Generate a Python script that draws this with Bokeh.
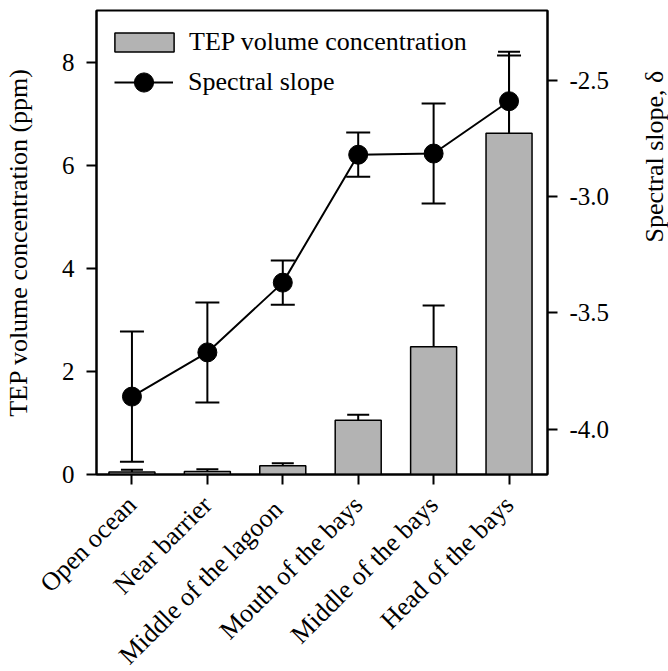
import math
from bokeh.plotting import figure
from bokeh.models import (ColumnDataSource, Range1d, LinearAxis, FixedTicker,
                          Whisker, TeeHead, Legend, LegendItem)
from bokeh.embed import file_html
from bokeh.resources import INLINE

# ---- data ----
categories = ["Open ocean", "Near barrier", "Middle of the  lagoon",
              "Mouth of the bays", "Middle of the bays", "Head of the bays"]
tep_values = [0.05, 0.06, 0.17, 1.05, 2.48, 6.62]
tep_errors = [0.04, 0.04, 0.05, 0.11, 0.80, 1.58]
slope_values = [-3.86, -3.67, -3.37, -2.82, -2.815, -2.59]
slope_errors = [0.28, 0.215, 0.095, 0.095, 0.215, 0.197]
left_ticks = [0, 2, 4, 6, 8]
right_ticks = [-4.0, -3.5, -3.0, -2.5]

FONT = "Liberation Serif"
FS = "25px"
FS_BIG = "26px"

xpos = list(range(len(categories)))
src = ColumnDataSource(dict(
    x=xpos, tep=tep_values,
    tep_up=[v + e for v, e in zip(tep_values, tep_errors)],
    slope=slope_values,
    s_lo=[v - e for v, e in zip(slope_values, slope_errors)],
    s_hi=[v + e for v, e in zip(slope_values, slope_errors)],
))

p = figure(frame_width=451, frame_height=464, output_backend="svg",
           toolbar_location=None, x_range=Range1d(-0.47, 5.51),
           y_range=Range1d(0, 9.0),
           min_border_left=87, min_border_right=122, min_border_top=10,
           min_border_bottom=180)
p.extra_y_ranges = {"slope": Range1d(-4.195, -2.2)}
p.grid.visible = False
p.outline_line_color = "black"
p.outline_line_width = 2
p.background_fill_color = "white"
p.border_fill_color = "white"

# bars
bars = p.vbar(x="x", top="tep", width=0.61, bottom=0, source=src,
              fill_color="#b3b3b3", line_color="black", line_width=1.5)
p.add_layout(Whisker(source=src, base="x", lower="tep", upper="tep_up",
                     dimension="height", line_width=2, line_color="black",
                     lower_head=None,
                     upper_head=TeeHead(size=22, line_width=2, line_color="black")))

# spectral slope
p.add_layout(Whisker(source=src, base="x", lower="s_lo", upper="s_hi",
                     dimension="height", line_width=2, line_color="black",
                     y_range_name="slope",
                     lower_head=TeeHead(size=24, line_width=2, line_color="black"),
                     upper_head=TeeHead(size=24, line_width=2, line_color="black")))
ln = p.line(x="x", y="slope", source=src, y_range_name="slope",
            line_color="black", line_width=2)
pts = p.scatter(x="x", y="slope", source=src, y_range_name="slope",
                size=19, fill_color="black", line_color="black")

# axes
xa = p.xaxis[0]
xa.ticker = FixedTicker(ticks=xpos)
xa.major_label_overrides = {i: c for i, c in enumerate(categories)}
xa.major_label_orientation = math.pi / 4
ya = p.yaxis[0]
ya.ticker = FixedTicker(ticks=left_ticks)
ya.axis_label = "TEP volume concentration (ppm)"

ra = LinearAxis(y_range_name="slope", ticker=FixedTicker(ticks=right_ticks),
                axis_label="Spectral slope, \u03b4")
ra.major_label_overrides = {t: f"{t:.1f}" for t in right_ticks}
p.add_layout(ra, "right")

for ax in [xa, ya, ra]:
    ax.axis_line_width = 2
    ax.axis_line_color = "black"
    ax.major_tick_line_width = 2
    ax.major_tick_line_color = "black"
    ax.major_tick_out = 10
    ax.major_tick_in = 0
    ax.minor_tick_out = 0
    ax.minor_tick_in = 0
    ax.major_label_text_font = FONT
    ax.major_label_text_font_size = FS
    ax.major_label_text_color = "black"
    ax.major_label_standoff = 12
    ax.axis_label_text_font = FONT
    ax.axis_label_text_font_size = FS_BIG
    ax.axis_label_text_font_style = "normal"
    ax.axis_label_text_color = "black"

xa.major_label_text_font_size = FS_BIG
xa.major_label_standoff = 16
ya.axis_label_standoff = 26
ra.axis_label_standoff = 42
ra.axis_label_orientation = math.pi / 2


def style_legend(lg):
    lg.label_text_font = FONT
    lg.label_text_font_size = FS_BIG
    lg.label_text_color = "black"
    lg.margin = 0
    lg.padding = 0
    lg.border_line_color = None
    lg.background_fill_alpha = 0


# legend for bars: rect drawn at 80% of glyph box -> 59 x 19
leg_a = Legend(items=[LegendItem(label="TEP volume concentration", renderers=[bars])],
               location=(11, 417))
leg_a.glyph_width = 74
leg_a.glyph_height = 24
leg_a.label_height = 24
leg_a.label_standoff = 8
style_legend(leg_a)
p.add_layout(leg_a)

# legend for line + marker
leg_b = Legend(items=[LegendItem(label="Spectral slope", renderers=[ln, pts])],
               location=(18, 368))
leg_b.glyph_width = 59
leg_b.glyph_height = 48
leg_b.label_height = 48
leg_b.label_standoff = 15
style_legend(leg_b)
p.add_layout(leg_b)

open("out.html", "w").write(file_html(p, INLINE))
